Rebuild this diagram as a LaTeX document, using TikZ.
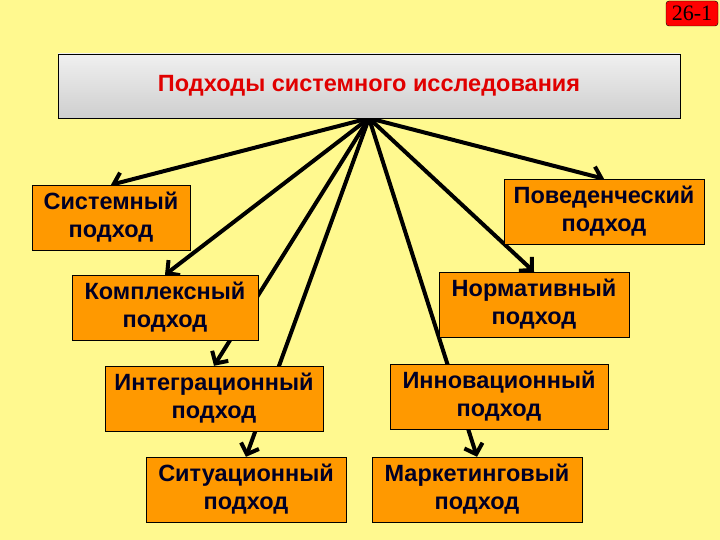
\documentclass[tikz,border=0pt]{standalone}
\usepackage{fontspec}
\setmainfont{Liberation Serif}
\newfontfamily\boxfont{Liberation Sans}
\usetikzlibrary{arrows.meta,positioning}
\definecolor{bgyellow}{HTML}{FFF98F}
\definecolor{boxorange}{HTML}{FF9900}
\definecolor{titlered}{HTML}{E00000}
\pgfdeclarelayer{bg}
\pgfsetlayers{bg,main}
\tikzset{
    approach/.style={draw=black, fill=boxorange, minimum height=65pt, inner sep=2pt,
        align=center, text=black!85!blue, font=\boxfont\bfseries\fontsize{23.5}{28}\selectfont},
    ray/.style={line width=4pt, -{Straight Barb[length=9pt,width=19pt]}}
}

\begin{document}
\begin{tikzpicture}[x=1pt,y=-1pt]
    % title and page mark
    \node[draw=black, top color=gray!12, bottom color=gray!38, minimum width=622pt, minimum height=64pt,
        font=\boxfont\bfseries\fontsize{23.5}{26}\selectfont, text=titlered] (title) at (369,86)
        {Подходы системного исследования};
    \node[draw=black, fill=red, rounded corners=3pt, minimum width=52pt, minimum height=25pt, inner sep=0pt,
        font=\fontsize{22}{22}\selectfont] (mark261) at (692,13.5) {26-1};
    \coordinate (hub) at (title.south);
    % left column
    \node[approach, minimum width=158pt] (sys) at (111,217.5) {Системный\\подход};
    \node[approach, minimum width=186pt] (kompl) at (165,307.5) {Комплексный\\подход};
    \node[approach, minimum width=218pt] (integ) at (214,398.5) {Интеграционный\\подход};
    \node[approach, minimum width=200pt] (situ) at (246,489.5) {Ситуационный\\подход};
    % right column
    \node[approach, minimum width=200pt] (pov) at (604,211.5) {Поведенческий\\подход};
    \node[approach, minimum width=190pt] (norm) at (534,304.5) {Нормативный\\подход};
    \node[approach, minimum width=218pt] (innov) at (499,396.5) {Инновационный\\подход};
    \node[approach, minimum width=210pt] (market) at (477,489.5) {Маркетинговый\\подход};
    \begin{pgfonlayer}{bg}
        \fill[bgyellow] (0,0) rectangle (720,540);
        \foreach \b in {sys,kompl,integ,situ,market,norm,pov}
        \draw[ray] (hub) -- (\b.north);
    \end{pgfonlayer}
    \useasboundingbox (0,0) rectangle (720,540);
\end{tikzpicture}
\end{document}
